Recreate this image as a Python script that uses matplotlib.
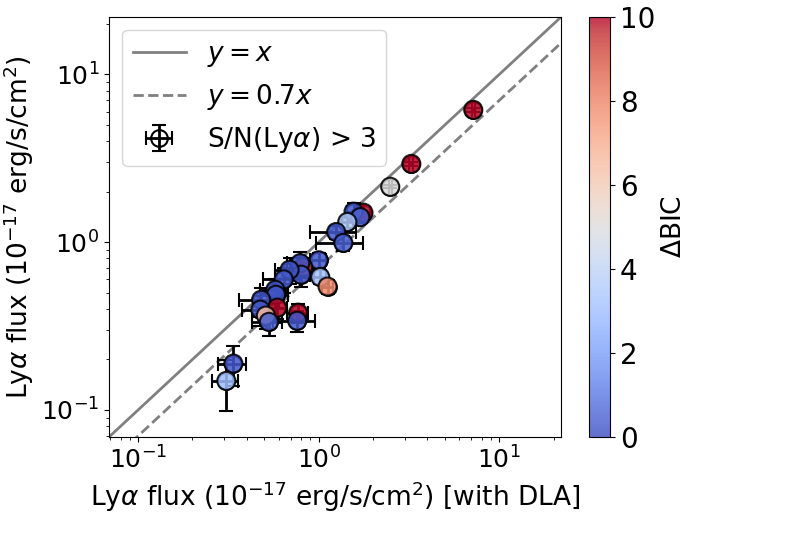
import numpy as np
import matplotlib
matplotlib.use("Agg")
import matplotlib.pyplot as plt

# Lya flux with DLA (x) vs without (y), in 1e-17 erg/s/cm2
flux_dla = [7.18, 3.26, 2.49, 1.77, 1.56, 1.70, 1.44, 1.25, 1.37,
            1.00, 1.02, 1.12, 0.82, 0.79, 0.80, 0.69, 0.64, 0.575,
            0.58, 0.48, 0.59, 0.475, 0.51, 0.53, 0.77, 0.76, 0.337, 0.308]
flux = [6.15, 2.93, 2.14, 1.50, 1.52, 1.41, 1.32, 1.15, 0.99,
        0.78, 0.62, 0.544, 0.71, 0.75, 0.64, 0.685, 0.60, 0.52,
        0.486, 0.454, 0.407, 0.396, 0.365, 0.335, 0.38, 0.34, 0.189, 0.149]
xerr = [0.15, 0.08, 0.05, 0.15, 0.12, 0.15, 0.10, 0.35, 0.40,
        0.10, 0.08, 0.08, 0.10, 0.12, 0.10, 0.12, 0.15, 0.10,
        0.10, 0.12, 0.08, 0.10, 0.08, 0.10, 0.10, 0.20, 0.06, 0.05]
yerr = [0.20, 0.08, 0.05, 0.15, 0.20, 0.10, 0.10, 0.10, 0.10,
        0.08, 0.06, 0.05, 0.10, 0.12, 0.10, 0.12, 0.10, 0.08,
        0.08, 0.08, 0.06, 0.08, 0.06, 0.06, 0.05, 0.05, 0.05, 0.05]
dbic = [10.0, 10.0, 5.0, 10.0, 0.3, 0.5, 3.5, 0.3, 0.4,
        0.3, 3.2, 7.8, 9.5, 0.2, 0.3, 0.2, 0.3, 0.3,
        0.2, 0.2, 10.0, 0.3, 6.5, 0.5, 10.0, 0.3, 0.3, 3.0]

fig = plt.figure(figsize=(7.85, 5.45), dpi=100)
ax = fig.add_axes([0.1389, 0.1982, 0.5758, 0.7706])
cax = fig.add_axes([0.7503, 0.1982, 0.0268, 0.7706])

lims = (0.069, 22.0)
ax.plot(lims, lims, color="gray", lw=2, label="$y = x$")
ax.plot(lims, [0.7 * v for v in lims], color="gray", lw=2, ls="--",
        label="$y = 0.7x$")

ax.errorbar(flux_dla, flux, xerr=xerr, yerr=yerr, fmt="o", ms=12,
            mfc="none", mec="black", mew=1.5, ecolor="black",
            elinewidth=2, capsize=5, capthick=2,
            label=r"S/N(Ly$\alpha$) > 3", zorder=2)
sc = ax.scatter(flux_dla, flux, c=dbic, cmap="coolwarm", vmin=0, vmax=10,
                s=170, edgecolors="black", linewidths=1.5, alpha=0.85,
                zorder=3)

ax.set_xscale("log")
ax.set_yscale("log")
ax.set_xlim(lims)
ax.set_ylim(lims)
ax.tick_params(labelsize=18)
ax.set_xlabel(r"Ly$\alpha$ flux ($10^{-17}$ erg/s/cm$^2$) [with DLA]", fontsize=19)
ax.set_ylabel(r"Ly$\alpha$ flux ($10^{-17}$ erg/s/cm$^2$)", fontsize=19)
ax.legend(loc="upper left", fontsize=19)

cb = fig.colorbar(sc, cax=cax)
cb.solids.set_alpha(0.8)
cb.ax.tick_params(labelsize=20)
cb.set_label(r"$\Delta$BIC", fontsize=19)

fig.savefig("out.png", dpi=100)
